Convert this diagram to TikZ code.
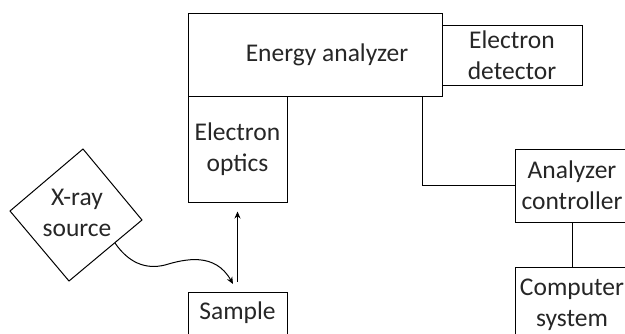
\documentclass[tikz,border=0pt]{standalone}
\usepackage{fontspec}
\setmainfont{Carlito}
\usetikzlibrary{arrows.meta}
\begin{document}
\begin{tikzpicture}[x=1pt,y=-1pt,
  every node/.style={font=\fontsize{25.5}{31}\selectfont, align=center, inner sep=0pt, text=black!85},
  box/.style={draw, line width=1pt},
  ln/.style={line width=1pt},
  arr/.style={line width=1pt, -{Stealth[length=7pt,width=6pt]}}]
\useasboundingbox (0,0) rectangle (625,333);
\clip (0,0) rectangle (625,333);
% Energy analyzer
\node[box, minimum width=254pt, minimum height=83pt] (ea) at (315,54.5) {};
\node (eat) at (327,55) {Energy analyzer};
% Electron detector
\node[box, minimum width=140pt, minimum height=60pt] (ed) at (512,55) {Electron\\detector};
% Electron optics
\node[box, minimum width=99pt, minimum height=106pt] (eo) at (237.5,149) {Electron\\optics};
% Analyzer controller
\node[box, minimum width=114pt, minimum height=73pt] (ac) at (572,185.5) {Analyzer\\controller};
% Computer system
\node[box, minimum width=114pt, minimum height=75pt] (cs) at (572,304.5) {Computer\\system};
% Sample
\node[box, minimum width=99pt, minimum height=50pt] (sm) at (237.5,317) {};
\node (smt) at (237.5,313) {Sample};
% X-ray source diamond
\coordinate (dl) at (10,211);
\coordinate (dt) at (83,149);
\coordinate (dr) at (142,220);
\coordinate (db) at (69,281);
\draw[ln] (dl) -- (dt) -- (dr) -- (db) -- cycle;
\node (xr) at (77,213) {X-ray\\source};
\coordinate (xs) at (115,243);
% connectors
\coordinate (k) at (422,185);
\draw[ln] (ea.south -| k) |- (ac.west);
\draw[ln] (ac.south) -- (cs.north);
\draw[arr] ([yshift=10pt]sm.north) -- ([yshift=-9pt]eo.south);
\coordinate (xe) at (233,284);
\draw[arr] (xs) .. controls (128,262) and (145,270) .. (165,265)
  .. controls (185,259) and (215,252) .. (xe);
\end{tikzpicture}
\end{document}
